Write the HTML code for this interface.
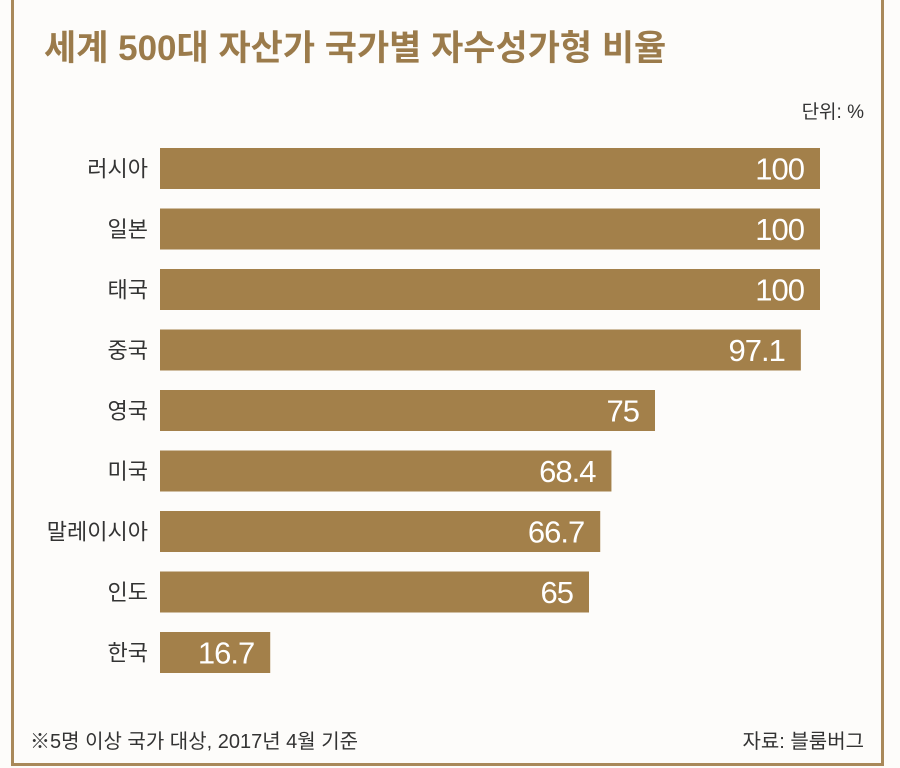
<!DOCTYPE html>
<html><head><meta charset="utf-8"><style>
body{margin:0;background:#fdfcfa;}
#wrap{position:relative;width:900px;height:768px;overflow:hidden;font-family:"Liberation Sans","Noto Sans CJK KR",sans-serif;}
.frame{position:absolute;background:#a9895a;}
</style></head><body>
<div id="wrap">
<div class="frame" style="left:11px;top:0;width:3px;height:766px"></div>
<div class="frame" style="left:881px;top:0;width:3px;height:766px"></div>
<div class="frame" style="left:11px;top:763px;width:873px;height:3px"></div>
<svg id="chart" width="900" height="768" style="position:absolute;left:0;top:0">
<text x="44" y="60" font-size="35" font-weight="bold" fill="#9b7b4b" font-family="Liberation Sans, Noto Sans CJK KR, sans-serif">세계 500대 자산가 국가별 자수성가형 비율</text>
<text x="864" y="118" font-size="19" text-anchor="end" fill="#333" font-family="Liberation Sans, Noto Sans CJK KR, sans-serif">단위: %</text>
<text x="30" y="748" font-size="20" fill="#333" font-family="Liberation Sans, Noto Sans CJK KR, sans-serif">※5명 이상 국가 대상, 2017년 4월 기준</text>
<text x="864" y="748" font-size="20" text-anchor="end" fill="#333" font-family="Liberation Sans, Noto Sans CJK KR, sans-serif">자료: 블룸버그</text>
<g id="bars"></g>
</svg>
</div>
<script>
const categories=["러시아","일본","태국","중국","영국","미국","말레이시아","인도","한국"];
const values=[100,100,100,97.1,75,68.4,66.7,65,16.7];
const valueLabels=["100","100","100","97.1","75","68.4","66.7","65","16.7"];
const x0=160,xScale=v=>x0+v*6.6;
const y=i=>148+i*60.5, bh=41;
const g=document.getElementById('bars');
const ns='http://www.w3.org/2000/svg';
categories.forEach((c,i)=>{
 const r=document.createElementNS(ns,'rect');
 
 
 r.setAttribute('x',x0);r.setAttribute('y',y(i));
 r.setAttribute('width',xScale(values[i])-x0);r.setAttribute('height',bh);
 r.setAttribute('fill','#a3804a');g.appendChild(r);
 const t=document.createElementNS(ns,'text');
 
 
 t.setAttribute('x',148);t.setAttribute('y',y(i)+bh/2+8);
 t.setAttribute('text-anchor','end');t.setAttribute('font-size','22');t.setAttribute('fill','#333');
 t.setAttribute('font-family','Liberation Sans, Noto Sans CJK KR, sans-serif');
 t.textContent=c;g.appendChild(t);
 const v=document.createElementNS(ns,'text');
 
 
 v.setAttribute('x',xScale(values[i])-16);v.setAttribute('y',y(i)+bh/2+11);
 v.setAttribute('text-anchor','end');v.setAttribute('font-size','31');v.setAttribute('fill','#fff');
 v.setAttribute('letter-spacing','-1');
 v.setAttribute('font-family','Liberation Sans, sans-serif');
 v.textContent=valueLabels[i];g.appendChild(v);
});
</script>
</body></html>
